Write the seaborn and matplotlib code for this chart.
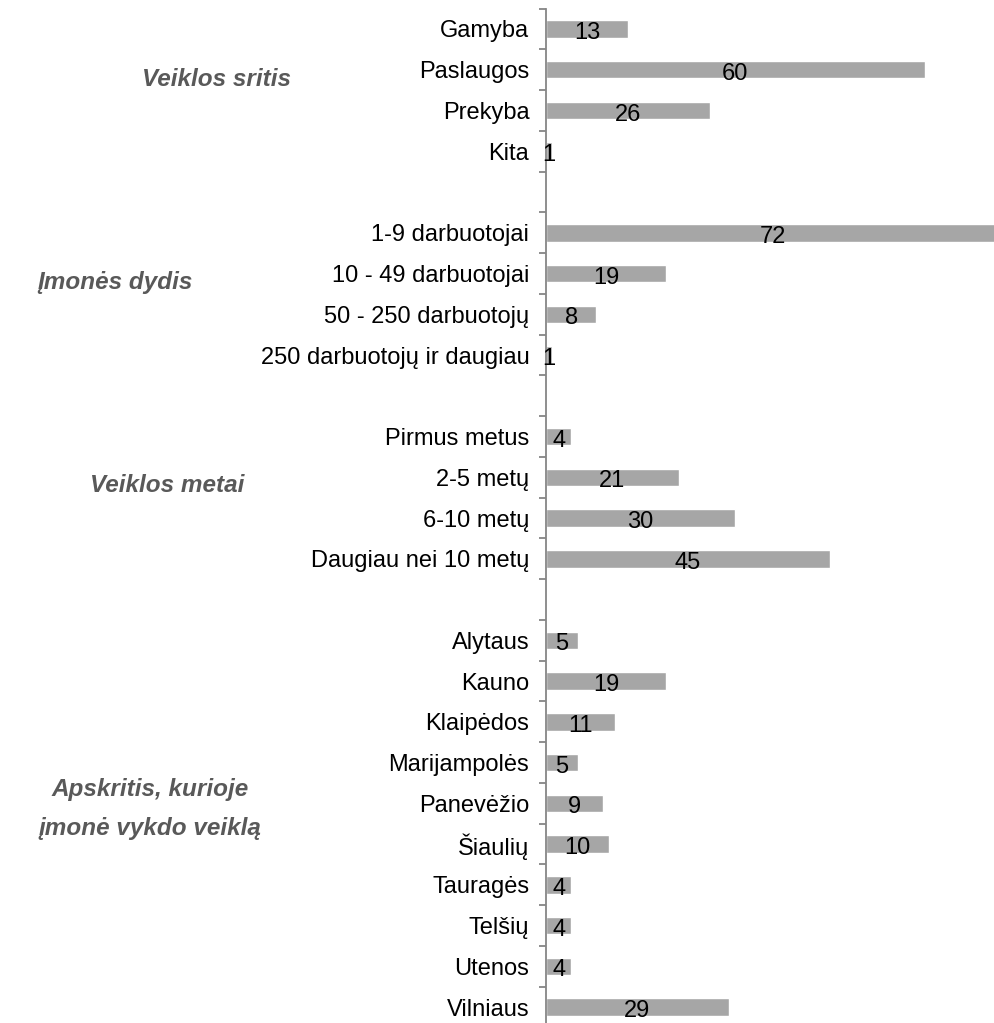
import pandas as pd
import matplotlib
matplotlib.use("Agg")
import matplotlib.pyplot as plt
import matplotlib.transforms as mtrans
import seaborn as sns

sns.set_style("white")
plt.rcParams['font.family'] = ['Liberation Sans', 'DejaVu Sans']

# categories (blank strings mark the gaps between groups)
sritis = ["Gamyba", "Paslaugos", "Prekyba", "Kita"]
sritis_vals = [13, 60, 26, 1]
dydis = ["1-9 darbuotojai", "10 - 49 darbuotojai", "50 - 250 darbuotojų",
         "250 darbuotojų ir daugiau"]
dydis_vals = [72, 19, 8, 1]
metai = ["Pirmus metus", "2-5 metų", "6-10 metų", "Daugiau nei 10 metų"]
metai_vals = [4, 21, 30, 45]
apskritis = ["Alytaus", "Kauno", "Klaipėdos", "Marijampolės", "Panevėžio",
             "Šiaulių", "Tauragės", "Telšių", "Utenos", "Vilniaus"]
apskritis_vals = [5, 19, 11, 5, 9, 10, 4, 4, 4, 29]

group_titles = ["Veiklos sritis", "Įmonės dydis", "Veiklos metai",
                "Apskritis, kurioje", "įmonė vykdo veiklą"]

labels = sritis + dydis + metai + apskritis
values = sritis_vals + dydis_vals + metai_vals + apskritis_vals
df = pd.DataFrame({"cat": labels, "val": values})

order = sritis + [" "] + dydis + ["  "] + metai + ["   "] + apskritis

fig = plt.figure(figsize=(9.94, 10.23), dpi=100)
ax = fig.add_axes([546 / 994, 0.0, 448 / 994, (1023 - 8.6) / 1023])

sns.barplot(data=df, y="cat", x="val", order=order, color="#A6A6A6",
            saturation=1, width=0.43, ax=ax, orient="h")

n = len(order)
ax.set_xlim(0, 71.0)
ax.set_ylim(24.39, -0.5)
ax.set_xlabel("")
ax.set_ylabel("")
ax.set_xticks([])

ax.set_yticks(range(n))
ax.set_yticklabels(order, fontsize=17, color="black")
ax.set_yticks([i - 0.5 for i in range(n)], minor=True)
ax.tick_params(axis="y", which="major", left=False, length=0, pad=12)
ax.tick_params(axis="y", which="minor", left=True, length=5, width=1.3,
               color="#868686")

for s in ["top", "right", "bottom"]:
    ax.spines[s].set_visible(False)
ax.spines["left"].set_color("#868686")
ax.spines["left"].set_linewidth(1.3)

# value labels
for i, cat in enumerate(order):
    if cat in labels:
        v = values[labels.index(cat)]
        ax.text(v / 2, i + 0.1, str(v), ha="center", va="center",
                fontsize=17, color="black", clip_on=False)

# group titles on the left
trans = mtrans.blended_transform_factory(fig.transFigure, ax.transData)
title_pos = [(217, 1.25), (115, 6.23), (167, 11.19), (150, 18.67), (150, 19.61)]
for (xp, yi), t in zip(title_pos, group_titles):
    ax.text(xp / 994, yi, t, transform=trans,
            ha="center", va="center", fontsize=17.5, fontweight="bold",
            fontstyle="italic", color="#595959")

fig.savefig("out.png", dpi=100)
